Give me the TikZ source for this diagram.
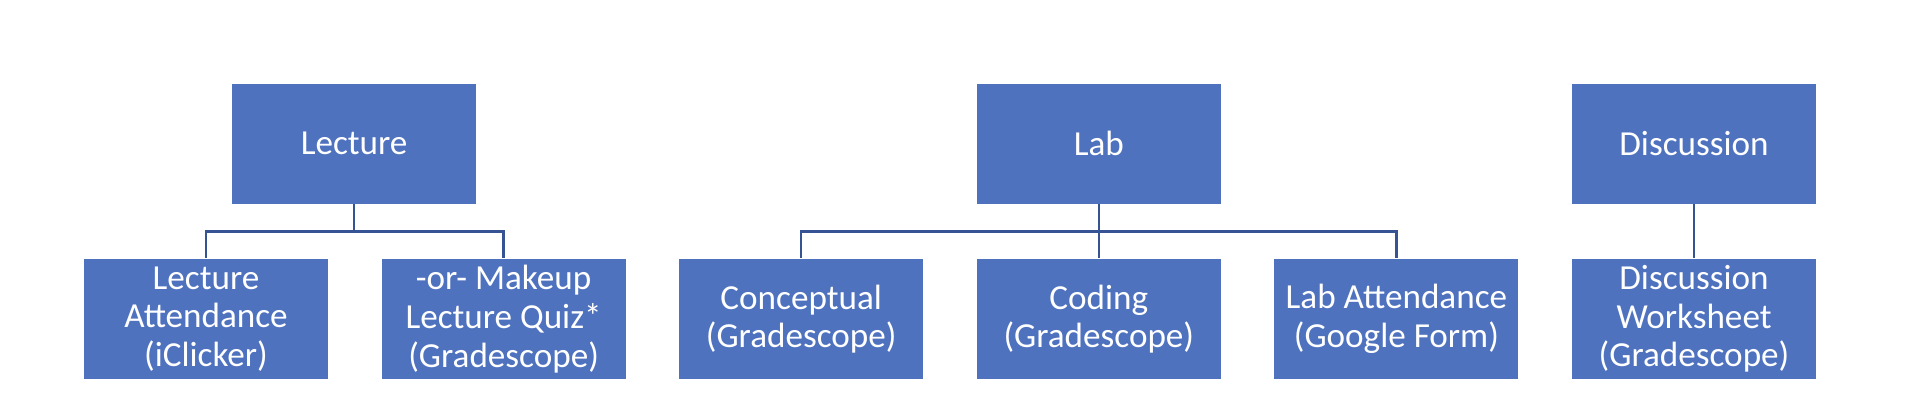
\documentclass[tikz,border=0pt]{standalone}
\usepackage{fontspec}
\setmainfont{Carlito}
\usepackage{tikz}
\usetikzlibrary{positioning}
\definecolor{boxblue}{RGB}{79,114,191}
\definecolor{lineblue}{RGB}{54,84,148}
\tikzstyle{topic} = [rectangle, minimum width=2.44cm, minimum height=1.2cm, inner sep=0pt, text centered, align=center, fill=boxblue, text=white, font=\fontsize{10}{11}\selectfont]
\tikzstyle{link} = [draw=lineblue, line width=0.7pt]

\begin{document}
\begin{tikzpicture}[node distance=0.54cm and 0.522cm]
	\useasboundingbox (0,0) rectangle (19.24,-4.12);

	\node (attend) [topic] at (2.06,-3.19) {Lecture\\Attendance\\(iClicker)};
	\node (makeup) [topic, right=of attend] {-or- Makeup\\Lecture Quiz*\\(Gradescope)};
	\node (concept) [topic, right=of makeup] {Conceptual\\(Gradescope)};
	\node (coding) [topic, right=of concept] {Coding\\(Gradescope)};
	\node (labatt) [topic, right=of coding] {Lab Attendance\\(Google Form)};
	\node (worksheet) [topic, right=of labatt] {Discussion\\Worksheet\\(Gradescope)};

	\node (lecture) [topic, above=of attend, xshift=1.481cm] {Lecture};
	\node (lab) [topic, above=of coding] {Lab};
	\node (disc) [topic, above=of worksheet] {Discussion};

	\draw [link] (lecture.south) -- ++(0,-0.27) -| (attend.north);
	\draw [link] (lecture.south) -- ++(0,-0.27) -| (makeup.north);
	\draw [link] (lab.south) -- ++(0,-0.27) -| (concept.north);
	\draw [link] (lab.south) -- (coding.north);
	\draw [link] (lab.south) -- ++(0,-0.27) -| (labatt.north);
	\draw [link] (disc.south) -- (worksheet.north);

\end{tikzpicture}
\end{document}
